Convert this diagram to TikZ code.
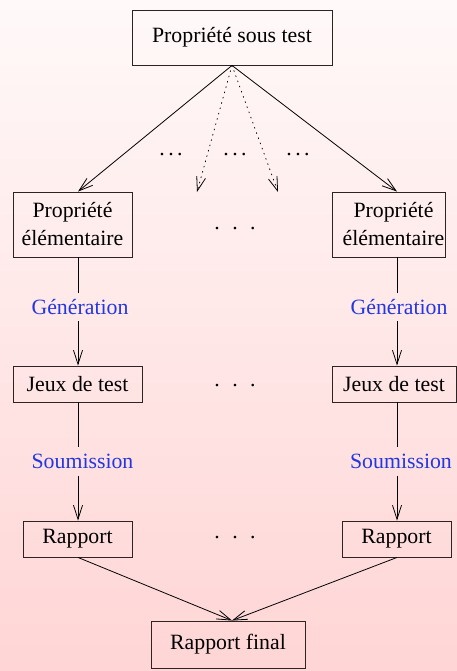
\documentclass[tikz,border=0pt]{standalone}
\usepackage{fontspec}
\setmainfont{Liberation Serif}
\usetikzlibrary{arrows.meta}
\definecolor{lblblue}{RGB}{35,55,225}
\definecolor{bgtop}{RGB}{255,249,249}
\definecolor{bgbot}{RGB}{255,213,213}
\definecolor{boxline}{RGB}{45,35,35}
\newcommand\smdots{.\kern3.5pt.\kern3.5pt.}
\newcommand\bgdots{.\kern12.5pt.\kern12.5pt.}
\begin{document}
\begin{tikzpicture}[x=1pt,y=-1pt,
  box/.style={draw=boxline, line width=0.9pt, inner sep=0pt, align=center,
    font=\fontsize{21.8}{28}\selectfont},
  lbl/.style={inner sep=0pt, text=lblblue, font=\fontsize{21.8}{26}\selectfont},
  dotsnode/.style={inner sep=0pt, anchor=base, font=\fontsize{21.8}{26}\selectfont},
  conn/.style={line width=0.8pt, draw=black},
  arr/.style={conn, -{Straight Barb[length=14pt,width=9pt,line width=0.8pt]}},
  dotarr/.style={arr, dash pattern=on 0.9pt off 4.6pt, line cap=round}
]
\useasboundingbox (0,0) rectangle (457,671);
\shade[top color=bgtop, bottom color=bgbot] (0,0) rectangle (457,671);

\coordinate (cL) at (78,0);
\coordinate (cR) at (397,0);

\node[box, minimum width=200pt, minimum height=55pt] (top) at (232,37.5) {Propriété sous test};

\node[box, minimum width=119pt, minimum height=65pt] (propL) at (72.5,224.5) {Propriété\\élémentaire};
\node[box, minimum width=113pt, minimum height=65pt] (propR) at (388.5,224.5) {\hspace*{10pt}Propriété\\\hspace*{10pt}élémentaire};

\node[box, minimum width=129pt, minimum height=36pt] (jeuxL) at (77.5,384) {Jeux de test};
\node[box, minimum width=124pt, minimum height=36pt] (jeuxR) at (394,384) {Jeux de test};

\node[box, minimum width=109pt, minimum height=36pt] (rapL) at (77.5,539) {Rapport};
\node[box, minimum width=109pt, minimum height=36pt] (rapR) at (396.5,539) {Rapport};

\node[box, minimum width=154pt, minimum height=47pt] (final) at (228,644.5) {Rapport final};

\node[lbl, minimum height=28pt] (genL) at (80,307) {Génération};
\node[lbl, minimum height=28pt] (genR) at (399,307) {Génération};
\node[lbl, minimum height=29pt] (soumL) at (82.5,461.5) {Soumission};
\node[lbl, minimum height=29pt] (soumR) at (401,461.5) {Soumission};

\node[dotsnode] (e1) at (171,156) {\smdots};
\node[dotsnode] (e2) at (235,156) {\smdots};
\node[dotsnode] (e3) at (298,156) {\smdots};

\node[dotsnode] (m1) at (235,229.5) {\bgdots};
\node[dotsnode] (m2) at (235,386.5) {\bgdots};
\node[dotsnode] (m3) at (235,538.5) {\bgdots};

\coordinate (t1) at (197,192);
\coordinate (t2) at (278,192);

\draw[arr] (top.south) -- (propL.north -| cL);
\draw[arr] (top.south) -- (propR.north -| cR);
\draw[dotarr] (top.south) -- (t1);
\draw[dotarr] (top.south) -- (t2);

\draw[conn] (propL.south -| cL) -- (genL.north -| cL);
\draw[arr] (genL.south -| cL) -- (jeuxL.north -| cL);
\draw[conn] (jeuxL.south -| cL) -- (soumL.north -| cL);
\draw[arr] (soumL.south -| cL) -- (rapL.north -| cL);

\draw[conn] (propR.south -| cR) -- (genR.north -| cR);
\draw[arr] (genR.south -| cR) -- (jeuxR.north -| cR);
\draw[conn] (jeuxR.south -| cR) -- (soumR.north -| cR);
\draw[arr] (soumR.south -| cR) -- (rapR.north -| cR);

\draw[arr] (rapL.south -| cL) -- (final.north -| top.south);
\draw[arr] (rapR.south -| cR) -- (final.north -| top.south);
\end{tikzpicture}
\end{document}
